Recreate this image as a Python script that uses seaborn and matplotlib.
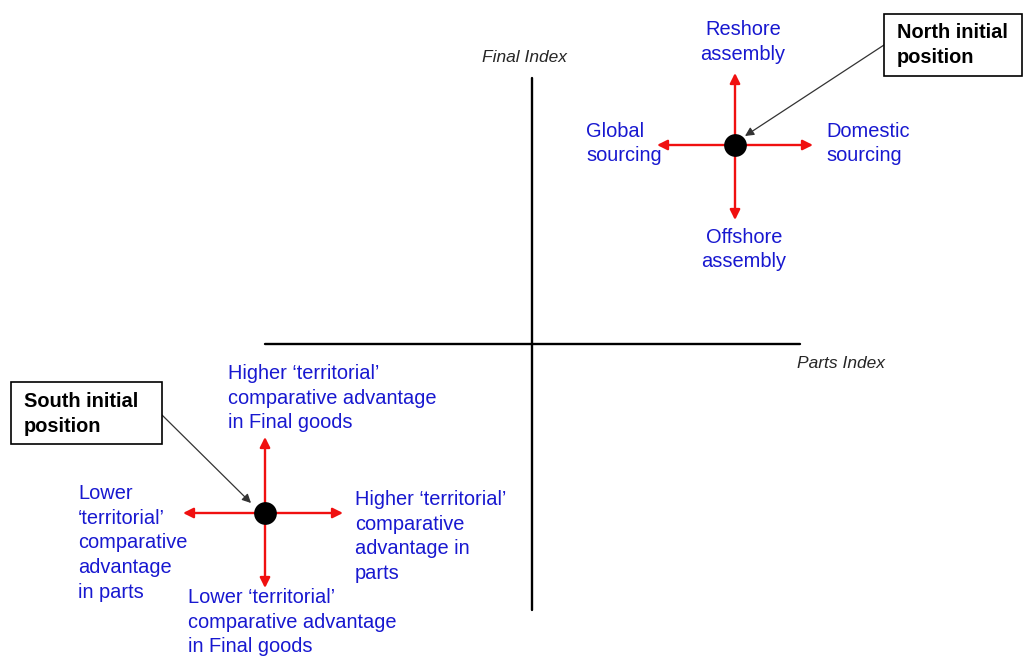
import matplotlib
matplotlib.use('Agg')
import matplotlib.pyplot as plt
import matplotlib.patches as mpatches
import seaborn as sns
import pandas as pd

# positions of the two initial points (pixel-like diagram units)
regions = ['North', 'South']
point_x = [735, 265]
point_y = [145, 513]
# arrow tips: up, down, left, right
arrow_up = [73, 437]
arrow_down = [220, 588]
arrow_left = [657, 183]
arrow_right = [813, 343]

north_labels = ['Reshore\nassembly', 'Offshore\nassembly', 'Global\nsourcing', 'Domestic\nsourcing']
south_labels = ['Higher \u2018territorial\u2019\ncomparative advantage\nin Final goods',
                'Lower \u2018territorial\u2019\ncomparative advantage\nin Final goods',
                'Lower\n\u2018territorial\u2019\ncomparative\nadvantage\nin parts',
                'Higher \u2018territorial\u2019\ncomparative\nadvantage in\nparts']
box_labels = ['North initial\nposition', 'South initial\nposition']

sns.set_style('white')
plt.rcParams['font.family'] = ['Liberation Sans', 'DejaVu Sans']

fig = plt.figure(figsize=(10.23, 6.58), dpi=100)
ax = fig.add_axes([0, 0, 1, 1])
ax.set_xlim(0, 1023)
ax.set_ylim(658, 0)
ax.axis('off')

red = '#f01010'
blue = '#1818d0'
fs = 14.4
ls = 1.37

# quadrant axes
ax.plot([532, 532], [78, 610], color='black', lw=1.7)
ax.plot([265, 800], [344, 344], color='black', lw=1.7)
ax.text(525, 58, 'Final Index', fontsize=12.5, style='italic', ha='center', va='center')
ax.text(797, 363, 'Parts Index', fontsize=12.5, style='italic', ha='left', va='center')

# red arrows
for i in range(2):
    x0, y0 = point_x[i], point_y[i]
    for tip in [(x0, arrow_up[i]), (x0, arrow_down[i]), (arrow_left[i], y0), (arrow_right[i], y0)]:
        ax.annotate('', xy=tip, xytext=(x0, y0),
                    arrowprops=dict(arrowstyle='-|>', color=red, lw=1.7,
                                    mutation_scale=15, shrinkA=0, shrinkB=0))

df = pd.DataFrame({'region': regions, 'x': point_x, 'y': point_y})
sns.scatterplot(data=df, x='x', y='y', color='black', s=230, edgecolor='black',
                ax=ax, zorder=5, legend=False)
ax.set_xlabel('')
ax.set_ylabel('')

# north labels
ax.text(743, 42, north_labels[0], color=blue, fontsize=fs, ha='center', va='center', linespacing=ls)
ax.text(744, 249.5, north_labels[1], color=blue, fontsize=fs, ha='center', va='center', linespacing=ls)
ax.text(586, 143.5, north_labels[2], color=blue, fontsize=fs, ha='left', va='center', linespacing=ls)
ax.text(826, 143.5, north_labels[3], color=blue, fontsize=fs, ha='left', va='center', linespacing=ls)

# south labels
ax.text(228, 398, south_labels[0], color=blue, fontsize=fs, ha='left', va='center', linespacing=ls)
ax.text(188, 622, south_labels[1], color=blue, fontsize=fs, ha='left', va='center', linespacing=ls)
ax.text(78, 543, south_labels[2], color=blue, fontsize=fs, ha='left', va='center', linespacing=ls)
ax.text(355, 536.5, south_labels[3], color=blue, fontsize=fs, ha='left', va='center', linespacing=ls)

# callout boxes
ax.add_patch(mpatches.Rectangle((884, 14), 138, 62, fill=True, facecolor='white',
                                edgecolor='black', lw=1.2, zorder=4))
ax.text(897, 45, box_labels[0], fontsize=fs, weight='bold', ha='left', va='center',
        linespacing=1.37, zorder=6, color='black')
ax.add_patch(mpatches.Rectangle((11, 382), 151, 62, fill=True, facecolor='white',
                                edgecolor='black', lw=1.2, zorder=4))
ax.text(24, 414, box_labels[1], fontsize=fs, weight='bold', ha='left', va='center',
        linespacing=1.37, zorder=6, color='black')

# pointer arrows from boxes to the points
ax.annotate('', xy=(745, 136), xytext=(884, 45),
            arrowprops=dict(arrowstyle='-|>', color='#333333', lw=0.9,
                            mutation_scale=13, shrinkA=0, shrinkB=0))
ax.annotate('', xy=(251, 503), xytext=(162, 415),
            arrowprops=dict(arrowstyle='-|>', color='#333333', lw=0.9,
                            mutation_scale=13, shrinkA=0, shrinkB=0))

fig.savefig('out.png', dpi=100)
